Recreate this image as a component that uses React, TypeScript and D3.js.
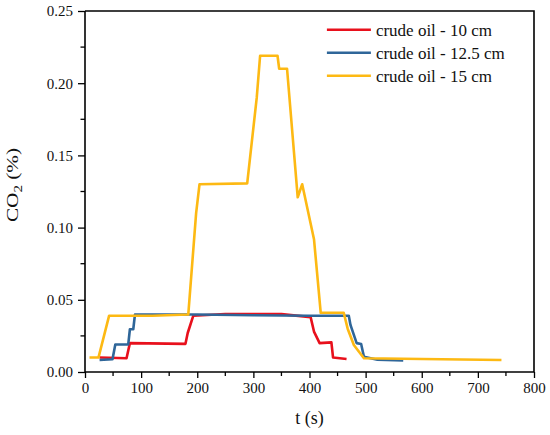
import React, { useEffect, useRef } from "react";
import * as d3 from "d3";

// crude oil - 10 cm
const t10 = [26, 74, 80, 179, 183, 193, 250, 300, 350, 402, 408, 418, 439, 442, 466];
const co10 = [0.01, 0.0095, 0.02, 0.0195, 0.027, 0.039, 0.0402, 0.0402, 0.0401, 0.038, 0.028, 0.02, 0.0205, 0.01, 0.009];

// crude oil - 12.5 cm
const t125 = [26, 49, 54, 77, 80, 86, 89, 200, 300, 400, 470, 473, 484, 492, 497, 521, 567];
const co125 = [0.0083, 0.0088, 0.019, 0.019, 0.0296, 0.0296, 0.0398, 0.0398, 0.0393, 0.039, 0.039, 0.0326, 0.02, 0.0194, 0.0106, 0.0085, 0.008];

// crude oil - 15 cm
const t15 = [8, 24, 43, 120, 184, 198, 204, 289, 306, 312, 343, 346, 360, 379, 387, 408, 420, 461, 468, 479, 497, 600, 742];
const co15 = [0.01, 0.01, 0.039, 0.039, 0.0398, 0.11, 0.13, 0.1306, 0.19, 0.219, 0.219, 0.21, 0.21, 0.121, 0.13, 0.092, 0.041, 0.041, 0.03, 0.0187, 0.0095, 0.009, 0.0083];

const seriesNames = ["crude oil - 10 cm", "crude oil - 12.5 cm", "crude oil - 15 cm"];
const seriesColors = ["#e8101c", "#2f6699", "#fdb913"];

const xTicks = [0, 100, 200, 300, 400, 500, 600, 700, 800];
const yTicks = [0, 0.05, 0.1, 0.15, 0.2, 0.25];

const App: React.FC = () => {
  const svgRef = useRef<SVGSVGElement>(null);

  useEffect(() => {
    if (!svgRef.current) return;
    const width = 550;
    const height = 435;
    const margin = { top: 11, right: 16, bottom: 63, left: 85 };
    const innerWidth = width - margin.left - margin.right;
    const innerHeight = height - margin.top - margin.bottom;
    const font = "Liberation Serif, Times New Roman, serif";

    d3.select(svgRef.current).selectAll("*").remove();

    const svg = d3
      .select(svgRef.current)
      .attr("width", width)
      .attr("height", height)
      .attr("font-family", font)
      .append("g")
      .attr("transform", `translate(${margin.left},${margin.top})`);

    const x = d3.scaleLinear().domain([0, 800]).range([0, innerWidth]);
    const y = d3.scaleLinear().domain([0, 0.25]).range([innerHeight, 0]);

    const series = [
      { t: t10, v: co10 },
      { t: t125, v: co125 },
      { t: t15, v: co15 },
    ];

    const line = d3
      .line<[number, number]>()
      .x((d) => x(d[0]))
      .y((d) => y(d[1]));

    // Draw the lines
    series.forEach((s, i) => {
      const pts: [number, number][] = s.t.map((t, j) => [t, s.v[j]]);
      svg
        .append("path")
        .datum(pts)
        .attr("d", line)
        .attr("fill", "none")
        .attr("stroke", seriesColors[i])
        .attr("stroke-width", 2.6)
        .attr("stroke-linejoin", "round");
    });

    // minor ticks
    const xMinor = d3.range(50, 800, 100);
    const yMinor = d3.range(0.025, 0.25, 0.05);

    // X axis
    const xAxis = svg
      .append("g")
      .attr("transform", `translate(0,${innerHeight})`)
      .call(
        d3
          .axisBottom(x)
          .tickValues(xTicks)
          .tickSize(6)
          .tickPadding(4)
          .tickFormat(d3.format("d"))
      );
    xAxis
      .selectAll("line.minor")
      .data(xMinor)
      .enter()
      .append("line")
      .attr("class", "minor")
      .attr("x1", (d) => x(d))
      .attr("x2", (d) => x(d))
      .attr("y1", 0)
      .attr("y2", 4)
      .attr("stroke", "#000")
      .attr("stroke-width", 1.3);

    // Y axis
    const yAxis = svg
      .append("g")
      .call(
        d3
          .axisLeft(y)
          .tickValues(yTicks)
          .tickSize(7)
          .tickPadding(5)
          .tickFormat(d3.format(".2f"))
      );
    yAxis
      .selectAll("line.minor")
      .data(yMinor)
      .enter()
      .append("line")
      .attr("class", "minor")
      .attr("x1", 0)
      .attr("x2", -4.5)
      .attr("y1", (d) => y(d))
      .attr("y2", (d) => y(d))
      .attr("stroke", "#000")
      .attr("stroke-width", 1.3);

    [xAxis, yAxis].forEach((a) => {
      a.attr("font-family", font);
      a.select(".domain").attr("stroke-width", 1.6);
      a.selectAll(".tick line").attr("stroke-width", 1.3);
      a.selectAll(".tick text").attr("font-size", 15).attr("fill", "#111");
    });
    xAxis.select(".domain").attr("d", `M0,0H${innerWidth}`);
    yAxis.select(".domain").attr("d", `M0,${innerHeight}V0`);

    // top and right frame
    svg
      .append("path")
      .attr("d", `M0,0H${innerWidth}V${innerHeight}`)
      .attr("fill", "none")
      .attr("stroke", "#000")
      .attr("stroke-width", 1.6);

    // Legend
    const legend = svg.append("g").attr("transform", `translate(${x(431)},${y(0.237)})`);
    seriesNames.forEach((name, i) => {
      const row = legend.append("g").attr("transform", `translate(0,${i * 23})`);
      row
        .append("line")
        .attr("x1", 0)
        .attr("x2", 44)
        .attr("y1", 0)
        .attr("y2", 0)
        .attr("stroke", seriesColors[i])
        .attr("stroke-width", 2.6);
      row
        .append("text")
        .attr("x", 49)
        .attr("y", 6)
        .attr("font-size", 17)
        .attr("fill", "#111")
        .text(name);
    });

    // X axis label
    svg
      .append("text")
      .attr("x", innerWidth / 2)
      .attr("y", innerHeight + 52)
      .attr("text-anchor", "middle")
      .attr("font-size", 18)
      .attr("fill", "#111")
      .text("t (s)");

    // Y axis label
    const yl = svg
      .append("text")
      .attr("transform", `translate(${18 - margin.left},${185 - margin.top}) rotate(-90) scale(1.25,1)`)
      .attr("text-anchor", "middle")
      .attr("font-size", 17)
      .attr("fill", "#111");
    yl.append("tspan").text("CO");
    yl.append("tspan").attr("font-size", 12).attr("dy", 4).text("2");
    yl.append("tspan").attr("dy", -4).text(" (%)");
  }, []);

  return (
    <svg
      ref={svgRef}
      style={{ position: "absolute", left: 0, top: 0, background: "#fff" }}
    ></svg>
  );
};

export default App;
